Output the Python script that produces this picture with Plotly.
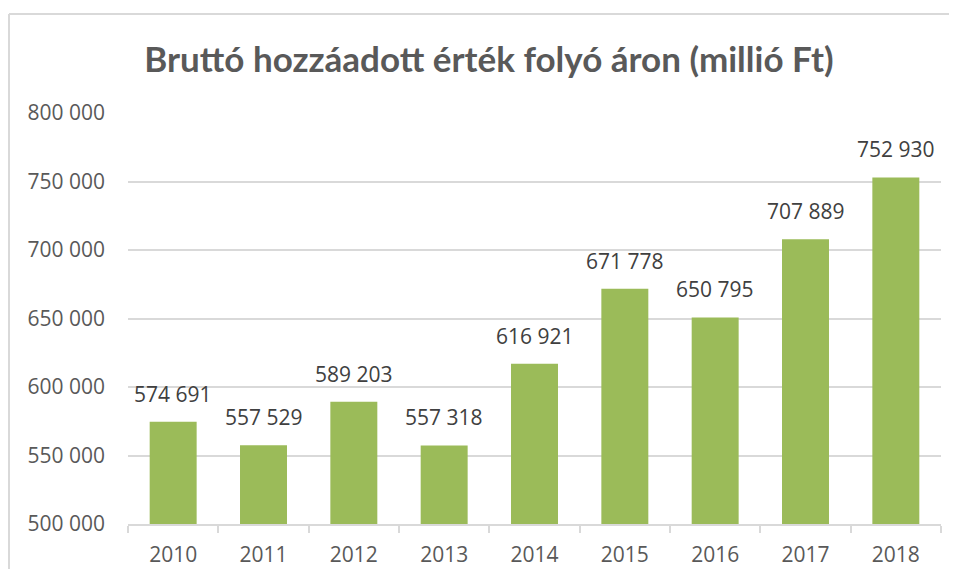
import plotly.graph_objects as go

years = ["2010", "2011", "2012", "2013", "2014", "2015", "2016", "2017", "2018"]
values = [574691, 557529, 589203, 557318, 616921, 671778, 650795, 707889, 752930]
y_ticks = [500000, 550000, 600000, 650000, 700000, 750000, 800000]

def fmt(v):
    return f"{v:,}".replace(",", " ")

OFF = 8  # default page body margin
W, H = 957 - 2 * OFF, 577 - 2 * OFF
L, T = 128 - OFF, 113 - OFF
R = W - (941 - OFF)
B = H - (524 - OFF)
pw, ph = W - L - R, H - T - B

fig = go.Figure(go.Bar(
    x=years, y=values,
    marker=dict(color="#9BBB59", line=dict(width=0)),
    width=0.52,
    hoverinfo="x+y",
))

# category index positions for labels (category axis)
for i, v in enumerate(values):
    fig.add_annotation(x=i, y=v, xref="x", yref="y", text=fmt(v), showarrow=False,
                       xanchor="center", yanchor="bottom", yshift=12,
                       font=dict(family="Open Sans", size=21, color="#404040"))

bx = (9 - 128) / pw
ty = 1 + (113 - 14) / ph
fig.add_shape(type="line", xref="paper", yref="paper", x0=bx, x1=bx, y0=-0.3, y1=ty,
              line=dict(color="#d9d9d9", width=2))
fig.add_shape(type="line", xref="paper", yref="paper", x0=bx, x1=1.2, y0=ty, y1=ty,
              line=dict(color="#d9d9d9", width=2))

fig.update_layout(
    width=W, height=H,
    margin=dict(l=L, r=R, t=T, b=B),
    paper_bgcolor="white", plot_bgcolor="white",
    title=dict(text="<b>Bruttó hozzáadott érték folyó áron (millió Ft)</b>",
               font=dict(family="Lato", size=35, color="#595959"),
               x=(489 - OFF) / W, xanchor="center", xref="container",
               y=1 - (60 - OFF) / H, yanchor="middle", yref="container"),
    showlegend=False,
)
fig.update_yaxes(range=[500000, 800000], tickvals=y_ticks, ticktext=[fmt(v) for v in y_ticks],
                 showgrid=True, gridcolor="#d9d9d9", gridwidth=1.5, zeroline=False,
                 showline=False, ticks="", ticklabelstandoff=22, automargin=False,
                 tickfont=dict(family="Open Sans", size=21, color="#595959"))
fig.update_xaxes(type="category", categoryorder="array", categoryarray=years,
                 range=[-0.5, len(years) - 0.5], automargin=False,
                 showline=True, linecolor="#d9d9d9", linewidth=1.5,
                 ticks="outside", tickson="boundaries", ticklen=7, tickcolor="#d9d9d9", tickwidth=1.5,
                 ticklabelstandoff=11,
                 tickfont=dict(family="Open Sans", size=21, color="#595959"))

fig.write_html("out.html")
